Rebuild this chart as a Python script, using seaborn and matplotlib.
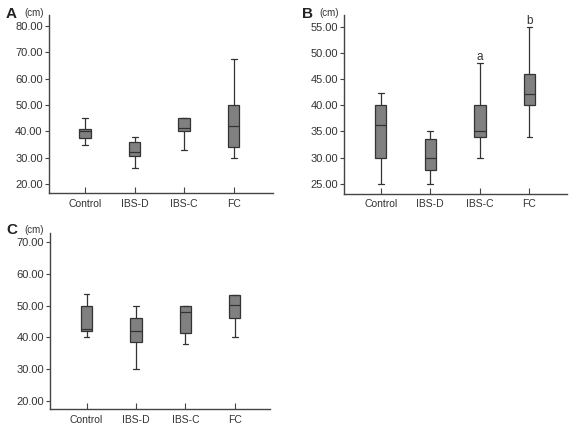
import matplotlib
matplotlib.use('Agg')
import matplotlib.pyplot as plt
import seaborn as sns
import pandas as pd

sns.set_style('ticks')
plt.rcParams['font.family'] = ['Liberation Sans', 'DejaVu Sans']

groups = ['Control', 'IBS-D', 'IBS-C', 'FC']

# five-number summaries: min, q1, median, q3, max
panel_a = {
    'Control': [35, 37.6, 40, 40.8, 45],
    'IBS-D': [26, 30.5, 32, 35.8, 38],
    'IBS-C': [33, 40, 41.1, 45, 45],
    'FC': [30, 34, 42, 50, 67.6],
}
panel_b = {
    'Control': [25, 30, 36.2, 40, 42.4],
    'IBS-D': [25, 27.7, 30, 33.5, 35],
    'IBS-C': [30, 34, 35, 40, 48],
    'FC': [34, 40, 42.1, 46, 55],
}
panel_c = {
    'Control': [40, 42.1, 42.7, 50, 53.6],
    'IBS-D': [30, 38.6, 42, 46, 50],
    'IBS-C': [38, 41.3, 48.1, 50, 50],
    'FC': [40, 46, 50.1, 53.2, 53.2],
}

ticks_a = [20, 30, 40, 50, 60, 70, 80]
ticks_b = [25, 30, 35, 40, 45, 50, 55]
ticks_c = [20, 30, 40, 50, 60, 70]

sig_labels_b = {'IBS-C': ('a', 49.2), 'FC': ('b', 56.1)}

text_col = '#333333'


def to_frame(d):
    rows = []
    for g in groups:
        for v in d[g]:
            rows.append({'group': g, 'value': v})
    return pd.DataFrame(rows)


def draw(ax, d, ticks, ylim, xlim):
    df = to_frame(d)
    sns.boxplot(data=df, x='group', y='value', order=groups, whis=(0, 100),
                width=0.23, color='#808080', saturation=1, linecolor='#333333',
                linewidth=0.9, ax=ax)
    ax.set_ylim(*ylim)
    ax.set_xlim(*xlim)
    ax.set_yticks(ticks)
    ax.set_yticklabels(['%.2f' % t for t in ticks], fontsize=8, color=text_col)
    ax.set_xticklabels(groups, fontsize=7.5, color=text_col)
    ax.set_xlabel('')
    ax.set_ylabel('')
    sns.despine(ax=ax)
    for s in ['left', 'bottom']:
        ax.spines[s].set_color('#444444')
        ax.spines[s].set_linewidth(1)
    ax.tick_params(axis='y', direction='out', length=3, width=0.8, pad=1.5, color='#444444')
    ax.tick_params(axis='x', direction='in', length=4, width=0.8, pad=4, color='#444444')


fig = plt.figure(figsize=(5.71, 4.28), dpi=100)
ax_a = fig.add_axes([0.0858, 0.549, 0.392, 0.416])
ax_b = fig.add_axes([0.603, 0.547, 0.390, 0.418])
ax_c = fig.add_axes([0.0876, 0.0437, 0.385, 0.412])

draw(ax_a, panel_a, ticks_a, (16.6, 84.2), (-0.73, 3.79))
draw(ax_b, panel_b, ticks_b, (23.1, 57.2), (-0.735, 3.76))
draw(ax_c, panel_c, ticks_c, (17.3, 72.9), (-0.74, 3.71))

for g, (lab, yv) in sig_labels_b.items():
    ax_b.text(groups.index(g), yv, lab, ha='center', va='center', fontsize=8.5, color=text_col)

for lab, x, y, xc in [('A', 11.5, 13.5, 34), ('B', 307, 13.5, 329), ('C', 11.5, 230, 34)]:
    fig.text(x / 571, 1 - y / 428, lab, fontsize=11, fontweight='bold', ha='center', va='center', color='#222222')
    fig.text(xc / 571, 1 - (y - 0.5) / 428, '(cm)', fontsize=7, ha='center', va='center', color=text_col)

fig.savefig('out.png', dpi=100)
